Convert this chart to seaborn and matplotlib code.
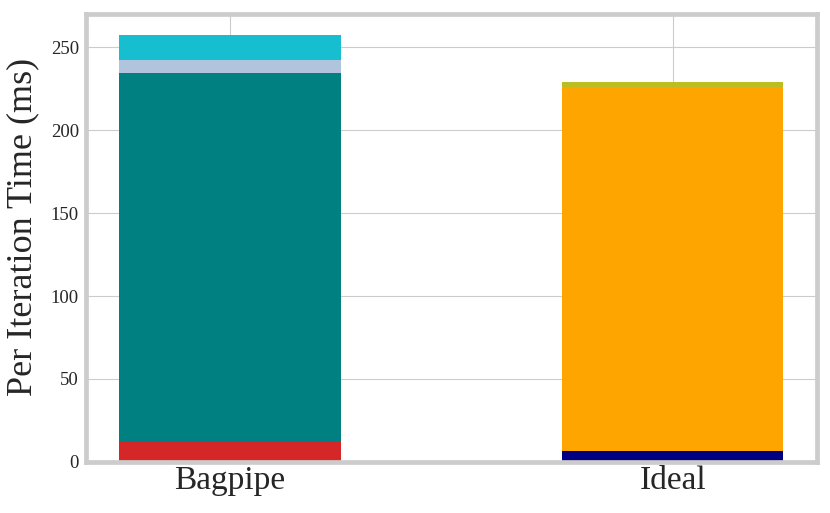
"""
plot.py - Stacked per-iteration time bars for Bagpipe vs Ideal.
"""

import matplotlib
matplotlib.use("Agg")
import matplotlib.pyplot as plt
import pandas as pd
import seaborn as sns

# Chart data (ms)
categories = ["Bagpipe", "Ideal"]
bagpipe_segments = [11.7, 223.0, 7.9, 14.8]
ideal_segments = [6.6, 219.8, 2.5]
bagpipe_colors = ["#d62728", "#008080", "#b0c4de", "#17becf"]
ideal_colors = ["#000080", "#ffa500", "#bcbd22"]


def cumulative(values):
    out, total = [], 0.0
    for v in values:
        total += v
        out.append(total)
    return out


def main() -> None:
    sns.set_style("whitegrid", {"grid.linewidth": 1.4})
    plt.rcParams["font.family"] = ["Liberation Serif", "DejaVu Serif"]

    fig = plt.figure(figsize=(8.3, 5.13), dpi=100)
    ax = fig.add_axes([0.1034, 0.0998, 0.8806, 0.8733])

    stacks = {
        "Bagpipe": (cumulative(bagpipe_segments), bagpipe_colors),
        "Ideal": (cumulative(ideal_segments), ideal_colors),
    }
    n_layers = max(len(bagpipe_segments), len(ideal_segments))

    # Draw the tallest cumulative layer first, then cover it with lower ones
    for layer in reversed(range(n_layers)):
        rows, palette = [], {}
        for cat in categories:
            tops, colors = stacks[cat]
            if layer < len(tops):
                rows.append({"name": cat, "time": tops[layer]})
                palette[cat] = colors[layer]
        df = pd.DataFrame(rows)
        sns.barplot(data=df, x="name", y="time", hue="name", palette=palette,
                    order=categories, hue_order=list(palette), width=0.5,
                    saturation=1, linewidth=0, legend=False, ax=ax)

    ax.set_xlim(-0.325, 1.325)
    ax.set_ylim(0, 270.3)
    ax.xaxis.grid(True)
    ax.yaxis.grid(True)
    ax.set_axisbelow(True)
    for spine in ax.spines.values():
        spine.set_linewidth(3.4)
        spine.set_color("#cccccc")

    ax.set_xlabel("")
    ax.set_ylabel("Per Iteration Time (ms)", fontsize=26, labelpad=8)
    ax.yaxis.label.set_y(0.525)
    ax.tick_params(axis="x", labelsize=24, length=0, pad=3)
    ax.tick_params(axis="y", labelsize=13.5, length=0, pad=5)

    fig.savefig("out.png", dpi=100)


if __name__ == "__main__":
    main()
